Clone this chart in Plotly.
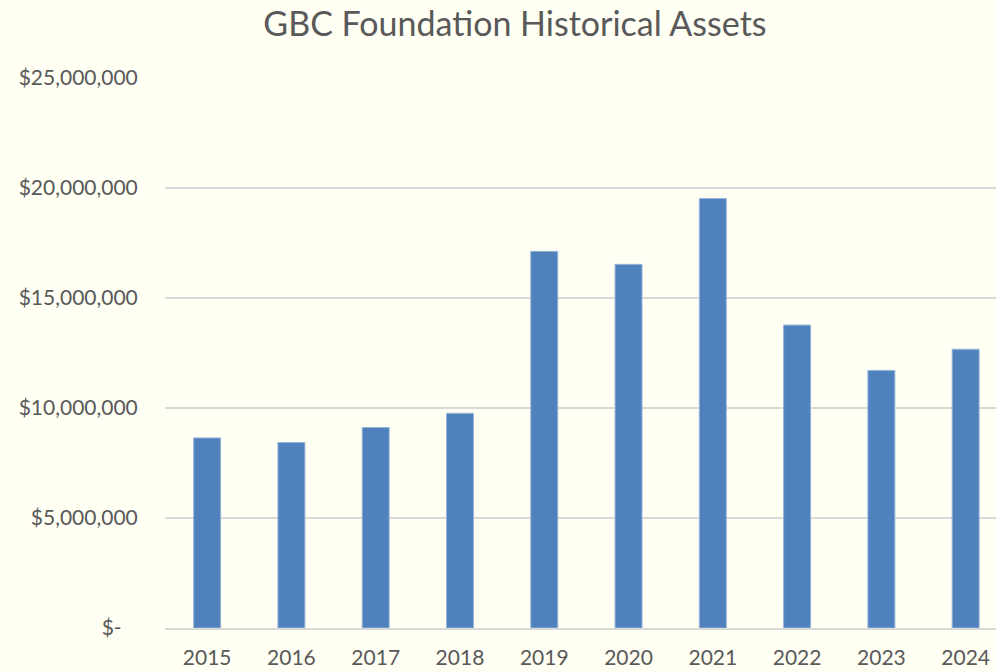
import plotly.graph_objects as go

years = ["2015", "2016", "2017", "2018", "2019", "2020", "2021", "2022", "2023", "2024"]
assets = [8640000, 8430000, 9110000, 9760000, 17120000, 16530000, 19520000, 13770000, 11710000, 12670000]

tick_vals = [0, 5000000, 10000000, 15000000, 20000000, 25000000]
tick_text = ["$-\u00a0\u00a0\u00a0", "$5,000,000", "$10,000,000", "$15,000,000", "$20,000,000", "$25,000,000"]

bg = "rgb(255,255,243)"
txt = "#595959"

fig = go.Figure(go.Bar(
    x=years, y=assets,
    marker=dict(color="rgb(79,129,189)", line=dict(color="rgb(150,180,215)", width=1)),
))

fig.update_layout(
    width=996, height=672,
    paper_bgcolor=bg, plot_bgcolor=bg,
    margin=dict(l=165, r=0, t=78, b=44),
    bargap=0.68,
    showlegend=False,
    title=dict(text="GBC Foundation Historical Assets", x=0.517, xanchor="center",
               y=0.964, yanchor="middle",
               font=dict(family="Lato, Open Sans, sans-serif", size=34, color=txt)),
    font=dict(family="Lato, Open Sans, sans-serif", size=21, color=txt),
)

fig.update_xaxes(
    type="category", range=[-0.5, 9.36],
    showgrid=False, showline=True, linecolor="#D9D9D9", linewidth=1.5,
    ticks="outside", ticklen=10, tickcolor="rgba(0,0,0,0)",
    tickfont=dict(size=21, color=txt),
)
fig.update_yaxes(
    range=[0, 25000000], tickvals=tick_vals, ticktext=tick_text,
    showgrid=True, gridcolor="#D9D9D9", gridwidth=1.5, zeroline=False,
    ticks="outside", ticklen=22, tickcolor="rgba(0,0,0,0)",
    tickfont=dict(size=21, color=txt),
)

fig.write_html(
    "out.html",
    config={"displayModeBar": False},
    post_script="document.body.style.margin='0';document.body.style.background='rgb(255,255,243)';",
)
